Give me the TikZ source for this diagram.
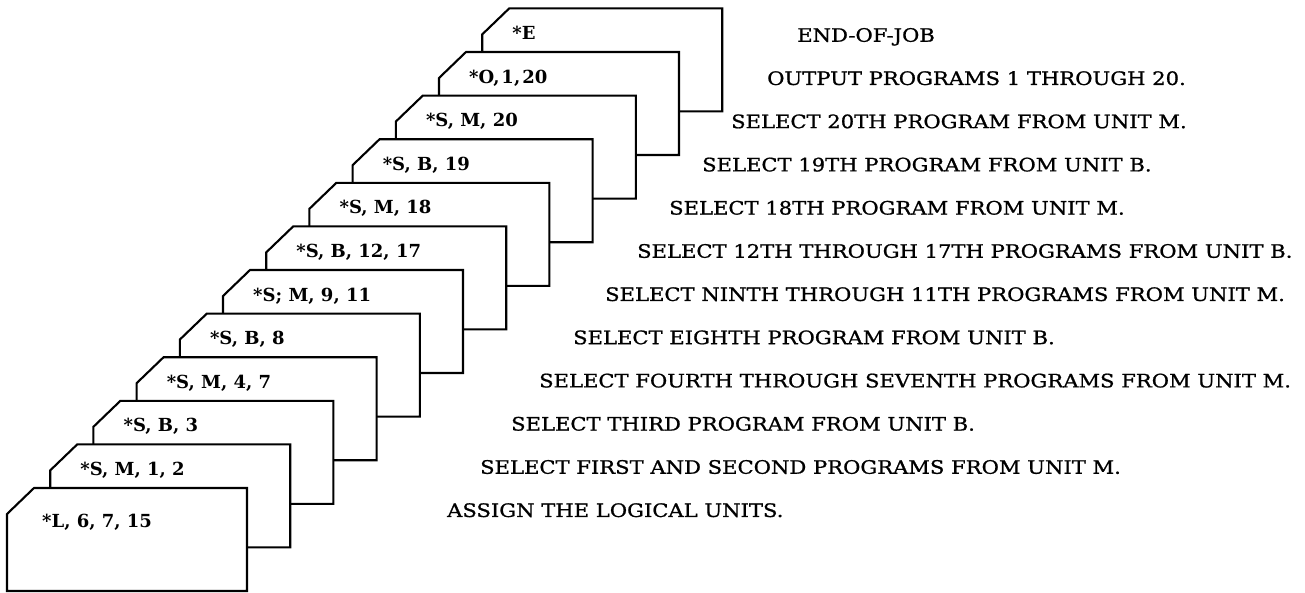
\documentclass[tikz,border=0pt]{standalone}
\usepackage{fontspec}
\setmainfont{DejaVu Serif}
\newfontfamily\cardfont{DejaVu Serif}
\newfontfamily\descfont[FakeStretch=1.14,FakeBold=1]{DejaVu Serif}
\begin{document}
\begin{tikzpicture}[x=1pt,y=-1pt,
  card/.style={draw=black, line width=2.1pt, fill=white, line join=miter},
  lab/.style={anchor=base west, inner sep=0pt, font=\cardfont\bfseries\fontsize{18}{20}\selectfont},
  desc/.style={anchor=base west, inner sep=0pt, font=\descfont\fontsize{18.5}{20}\selectfont}]
\useasboundingbox (0,0) rectangle (1305,592);
% cards, back to front
\foreach \i/\t in {11/{*E},10/{*O,\kern2pt 1,\kern2pt 20},9/{*S, M, 20},8/{*S, B, 19},7/{*S, M, 18},6/{*S, B, 12, 17},5/{*S; M, 9, 11},4/{*S, B, 8},3/{*S, M, 4, 7},2/{*S, B, 3},1/{*S, M, 1, 2}}{
  \pgfmathsetmacro\xl{7+43.2*\i}
  \pgfmathsetmacro\yt{488-43.6*\i}
  \draw[card] (\xl,\yt+26) -- (\xl+27,\yt) -- (\xl+240,\yt) -- (\xl+240,\yt+103) -- (\xl,\yt+103) -- cycle;
  \node[lab] (c\i) at (\xl+30,\yt+31) {\t};
}
\draw[card] (7,514) -- (34,488) -- (247,488) -- (247,591) -- (7,591) -- cycle;
\node[lab] (c0) at (42,527) {*L, 6, 7, 15};
% descriptions
\foreach \k/\x/\t in {0/797/{END-OF-JOB},1/767/{OUTPUT PROGRAMS 1 THROUGH 20.},2/731/{SELECT 20TH PROGRAM FROM UNIT M.},3/702/{SELECT 19TH PROGRAM FROM UNIT B.},4/669/{SELECT 18TH PROGRAM FROM UNIT M.},5/637/{SELECT 12TH THROUGH 17TH PROGRAMS FROM UNIT B.},6/605/{SELECT NINTH THROUGH 11TH PROGRAMS FROM UNIT M.},7/573/{SELECT EIGHTH PROGRAM FROM UNIT B.},8/539/{SELECT FOURTH THROUGH SEVENTH PROGRAMS FROM UNIT M.},9/511/{SELECT THIRD PROGRAM FROM UNIT B.},10/480/{SELECT FIRST AND SECOND PROGRAMS FROM UNIT M.},11/447/{ASSIGN THE LOGICAL UNITS.}}{
  \pgfmathsetmacro\yy{35+43.2*\k+6.75}
  \node[desc] (d\k) at (\x,\yy) {\t};
}
\end{tikzpicture}
\end{document}
